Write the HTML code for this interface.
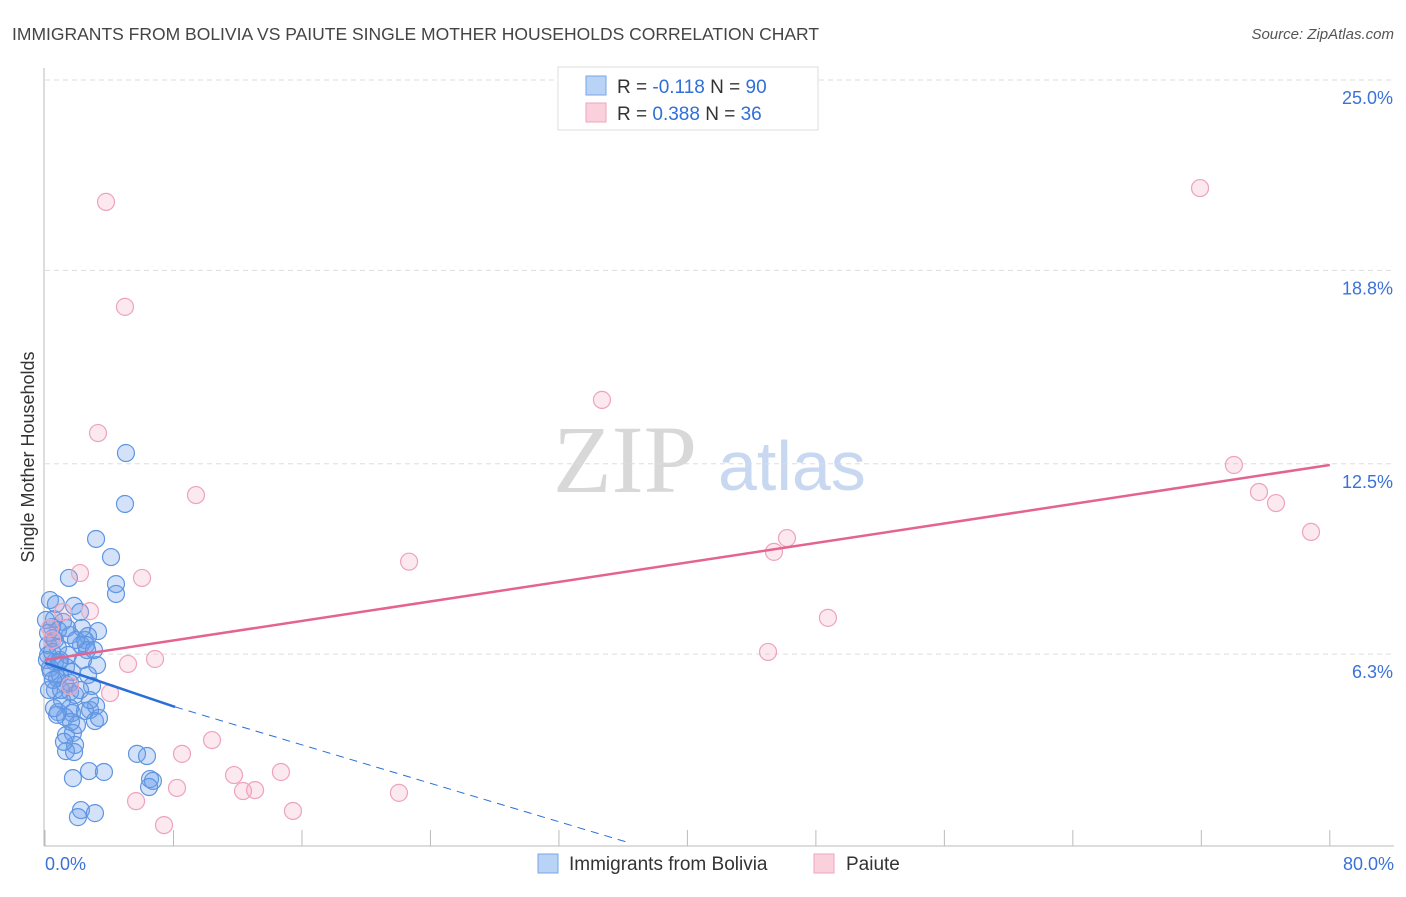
<!DOCTYPE html>
<html><head><meta charset="utf-8"><style>
body{margin:0;background:#fff;font-family:"Liberation Sans",sans-serif;}
</style></head><body>
<svg width="1406" height="892" viewBox="0 0 1406 892" xmlns="http://www.w3.org/2000/svg">
<text x="12" y="40" font-size="17.5" fill="#444">IMMIGRANTS FROM BOLIVIA VS PAIUTE SINGLE MOTHER HOUSEHOLDS CORRELATION CHART</text>
<text x="1394" y="39" font-size="15" fill="#555" font-style="italic" text-anchor="end">Source: ZipAtlas.com</text>
<g>
<text x="553" y="492" font-size="96" fill="#d8d8d8" font-family="Liberation Serif,serif">ZIP</text>
<text x="718" y="490" font-size="70" fill="#c8d8f0">atlas</text>
</g>
<g id="grid"></g>
<g id="axes"></g>
<g id="marks"></g>
<text transform="translate(34,457) rotate(-90)" font-size="18" fill="#333" text-anchor="middle">Single Mother Households</text>
<g>
<rect x="558" y="67" width="260" height="63" fill="#fff" stroke="#ddd"/>
<rect x="586" y="76" width="20" height="19" fill="#b8d3f5" stroke="#7aa6e6"/>
<rect x="586" y="103" width="20" height="19" fill="#fbd0dd" stroke="#eca6bc"/>
<text x="617" y="93" font-size="19" fill="#333">R = <tspan fill="#2f6fd6">-0.118</tspan>   N = <tspan fill="#2f6fd6">90</tspan></text>
<text x="617" y="120" font-size="19" fill="#333">R = <tspan fill="#2f6fd6"> 0.388</tspan>   N = <tspan fill="#2f6fd6">36</tspan></text>
</g>
<g>
<rect x="538" y="854" width="20" height="19" fill="#b8d3f5" stroke="#7aa6e6"/>
<text x="569" y="870" font-size="19" fill="#333">Immigrants from Bolivia</text>
<rect x="814" y="854" width="20" height="19" fill="#fbd0dd" stroke="#eca6bc"/>
<text x="846" y="870" font-size="19" fill="#333">Paiute</text>
</g>
</svg>
<script>
const yTicks=[25.0,18.8,12.5,6.3];
const yTickLabels=["25.0%","18.8%","12.5%","6.3%"];
const xTicks=[0,8,16,24,32,40,48,56,64,72,80];
const xEndLabels=["0.0%","80.0%"];
const boliviaX=[5.04,4.98,3.18,4.11,4.42,4.42,1.49,1.81,2.18,0.56,1.12,0.44,2.30,3.30,2.49,2.68,2.24,2.55,1.56,0.50,0.62,0.81,0.19,0.93,0.62,3.24,0.31,1.31,1.68,2.68,0.75,1.25,1.56,2.93,0.62,1.56,3.18,2.80,1.56,1.68,0.81,1.25,2.49,3.11,1.31,1.74,1.87,1.31,1.81,2.74,3.67,1.74,5.73,6.35,6.54,6.72,6.48,2.24,2.05,3.11,0.75,0.19,0.31,0.25,0.12,0.44,0.93,1.87,1.06,2.18,1.43,0.81,0.06,0.68,2.80,1.99,1.18,0.37,2.37,1.00,0.56,3.36,1.62,2.62,1.37,3.05,0.50,0.87,1.93,0.19];
const boliviaY=[12.85,11.19,10.05,9.46,8.58,8.26,8.78,7.87,7.67,7.44,7.35,7.18,7.15,7.05,6.76,6.89,6.60,6.60,6.92,6.82,6.76,6.50,6.27,6.11,6.04,5.94,5.85,5.88,5.72,5.62,5.52,5.33,5.36,5.26,5.13,5.07,4.61,4.48,4.54,4.38,4.41,4.25,4.45,4.12,3.66,3.73,3.34,3.14,3.11,2.49,2.46,2.26,3.05,2.98,2.23,2.17,1.97,1.22,0.99,1.12,4.32,6.60,8.06,5.13,6.11,6.37,5.62,4.97,4.80,5.13,6.27,7.08,7.41,7.93,4.80,3.99,3.44,5.72,6.11,5.13,4.54,4.22,4.09,6.43,7.15,6.43,5.46,6.04,6.76,6.99];
const paiuteX=[3.80,4.98,3.30,9.40,34.68,71.92,74.03,75.59,76.65,78.83,46.20,45.39,22.67,6.04,2.18,48.75,45.02,6.85,5.17,4.05,10.40,8.53,11.77,14.69,8.22,12.33,13.08,22.04,5.67,15.44,7.41,1.12,2.80,0.44,1.56,0.31];
const paiuteY=[21.03,17.61,13.50,11.48,14.58,21.48,12.46,11.58,11.22,10.28,10.08,9.63,9.31,8.78,8.94,7.48,6.37,6.14,5.98,5.03,3.50,3.05,2.36,2.46,1.94,1.84,1.87,1.78,1.51,1.19,0.73,7.67,7.70,6.76,5.26,7.15];
const paiuteTrend=[[0,6.11],[80,12.46]];
const boliviaTrendSolid=[[0,6.01],[8.1,4.58]];
const boliviaTrendDash=[[8.1,4.58],[36.4,0.15]];
const NS="http://www.w3.org/2000/svg";
function xs(v){return 45+v*16.06;}
function ys(v){return 80+(25-v)*30.7;}
function mk(tag,attrs,parent){const e=document.createElementNS(NS,tag);for(const k in attrs)e.setAttribute(k,attrs[k]);parent.appendChild(e);return e;}
const grid=document.getElementById('grid'),axes=document.getElementById('axes'),marks=document.getElementById('marks');
yTicks.forEach((t,i)=>{
 const l=mk('line',{x1:45,x2:1394,y1:ys(t),y2:ys(t),stroke:'#ddd','stroke-dasharray':'5,4'},grid);
 
 
 const tx=mk('text',{x:1393,y:ys(t)+24,'font-size':18,fill:'#3a72d8','text-anchor':'end'},axes);
 tx.textContent=yTickLabels[i];
 
 
});
const ax=mk('line',{x1:44,x2:44,y1:68,y2:846,stroke:'#bbb'},axes);


const bx=mk('line',{x1:44,x2:1394,y1:846,y2:846,stroke:'#bbb'},axes);


xTicks.forEach(t=>{
 const l=mk('line',{x1:xs(t),x2:xs(t),y1:830,y2:846,stroke:'#bbb'},axes);
 
 
});
[[0,'start',45],[80,'end',1394]].forEach((d,i)=>{
 const t=mk('text',{x:d[2],y:870,'font-size':18,fill:'#3a72d8','text-anchor':d[1]},axes);
 t.textContent=xEndLabels[i];
 
 
});
boliviaX.forEach((x,i)=>{
 const c=mk('circle',{cx:xs(x),cy:ys(boliviaY[i]),r:8.5,fill:'rgba(110,160,235,0.3)',stroke:'#5f95e0','stroke-width':1.2},marks);
 
 
});
paiuteX.forEach((x,i)=>{
 const c=mk('circle',{cx:xs(x),cy:ys(paiuteY[i]),r:8.5,fill:'rgba(245,165,190,0.25)',stroke:'#eea3bb','stroke-width':1.2},marks);
 
 
});
const pt=mk('line',{x1:xs(paiuteTrend[0][0]),y1:ys(paiuteTrend[0][1]),x2:xs(paiuteTrend[1][0]),y2:ys(paiuteTrend[1][1]),stroke:'#e4638f','stroke-width':2.5},marks);


const bt=mk('line',{x1:xs(boliviaTrendSolid[0][0]),y1:ys(boliviaTrendSolid[0][1]),x2:xs(boliviaTrendSolid[1][0]),y2:ys(boliviaTrendSolid[1][1]),stroke:'#2a6fd8','stroke-width':2.5},marks);


const bd=mk('line',{x1:xs(boliviaTrendDash[0][0]),y1:ys(boliviaTrendDash[0][1]),x2:xs(boliviaTrendDash[1][0]),y2:ys(boliviaTrendDash[1][1]),stroke:'#2a6fd8','stroke-width':1,'stroke-dasharray':'8,6'},marks);


</script>
</body></html>
